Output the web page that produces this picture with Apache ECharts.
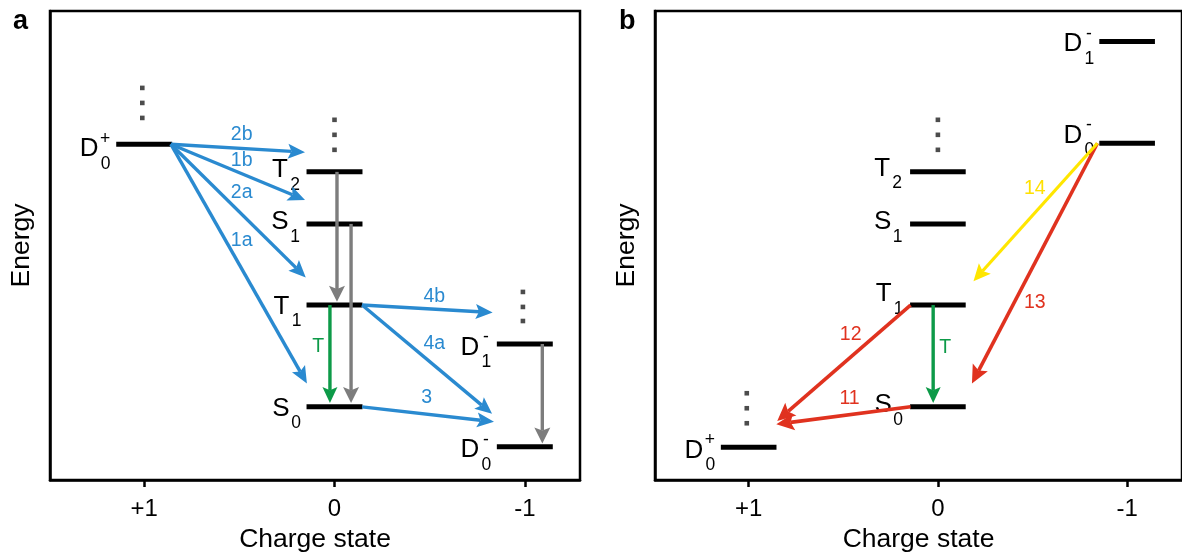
<!DOCTYPE html>
<html>
<head>
<meta charset="utf-8">
<script src="https://cdn.jsdelivr.net/npm/echarts@6/dist/echarts.min.js"></script>
<style>
  html, body { margin: 0; padding: 0; background: #fff; }
  #chart { width: 1182px; height: 558px; }
</style>
</head>
<body>
<div id="chart"></div>
<script>
// ---- data -------------------------------------------------------------
// Charge-state ticks shared by both panels
const chargeTicks = [1, 0, -1];

// Panel a: energy levels (name = letter, subscript, superscript)
const levelNamesA  = ['D0+', 'T2', 'S1', 'T1', 'S0', 'D1-', 'D0-'];
const levelChargeA = [1, 0, 0, 0, 0, -1, -1];
const levelEnergyA = [71.6, 65.7, 54.6, 37.3, 15.6, 29.0, 7.1];

// Panel b: energy levels
const levelNamesB  = ['D1-', 'D0-', 'T2', 'S1', 'T1', 'S0', 'D0+'];
const levelChargeB = [-1, -1, 0, 0, 0, 0, 1];
const levelEnergyB = [93.5, 71.8, 65.7, 54.6, 37.3, 15.6, 7.0];

// "higher states" ellipsis dots
const dotChargeA = [1.01, 1.01, 1.01, 0, 0, 0, -0.99, -0.99, -0.99];
const dotEnergyA = [83.6, 80.4, 77.2, 76.8, 73.6, 70.4, 40.1, 36.9, 33.9];
const dotChargeB = [0, 0, 0, 1.01, 1.01, 1.01];
const dotEnergyB = [76.8, 73.6, 70.4, 18.5, 15.3, 12.1];

// Panel a transitions: start [charge, energy], end [charge, energy]
const arrowKindA  = ['transfer', 'transfer', 'transfer', 'transfer', 'transfer', 'transfer', 'transfer',
                     'relax', 'relax', 'relax', 'triplet'];
const arrowTextA  = ['2b', '1b', '2a', '1a', '4b', '4a', '3', '', '', '', 'T'];
const arrowFromA  = [[0.86, 71.6], [0.86, 71.6], [0.86, 71.6], [0.86, 71.6],
                     [-0.145, 37.3], [-0.145, 37.3], [-0.145, 15.6],
                     [-0.013, 65.7], [-0.087, 54.6], [-1.092, 29.0], [0.024, 37.3]];
const arrowToA    = [[0.155, 69.9], [0.155, 59.7], [0.151, 43.2], [0.145, 20.6],
                     [-0.831, 35.7], [-0.828, 14.1], [-0.838, 12.4],
                     [-0.013, 38.0], [-0.087, 16.4], [-1.092, 7.8], [0.024, 16.4]];
const arrowTextAtA = [[0.488, 73.6], [0.488, 68.0], [0.488, 61.3], [0.488, 51.0],
                      [-0.524, 39.2], [-0.524, 29.0], [-0.484, 17.5],
                      null, null, null, [0.085, 28.4]];

// Panel b transitions
const arrowKindB  = ['recomb', 'recomb', 'recomb', 'capture', 'triplet'];
const arrowTextB  = ['12', '11', '13', '14', 'T'];
const arrowFromB  = [[0.1445, 37.3], [0.1445, 15.6], [-0.843, 71.8], [-0.843, 71.8], [0.025, 37.3]];
const arrowToB    = [[0.849, 12.6], [0.854, 11.9], [-0.18, 20.6], [-0.188, 42.4], [0.025, 16.4]];
const arrowTextAtB = [[0.461, 30.9], [0.467, 17.4], [-0.512, 37.9], [-0.512, 62.2], [-0.039, 28.3]];

// ---- styles -----------------------------------------------------------
const FONT = '"Liberation Sans", Arial, Helvetica, sans-serif';
const LEVEL_HALF = 0.147;           // half width of a level bar, charge units
const ARROW_STYLE = {
  transfer: { color: '#2a8ad0', width: 3.4, head: 17, half: 7.5 },
  relax:    { color: '#7d7d7d', width: 3.4, head: 16, half: 8 },
  triplet:  { color: '#0d9a48', width: 3.4, head: 16, half: 7.5 },
  recomb:   { color: '#e0321f', width: 3.6, head: 18, half: 8.5 },
  capture:  { color: '#ffe600', width: 3.2, head: 17, half: 8 }
};
const TEXT_COLOR = { transfer: '#2a8ad0', triplet: '#0d9a48', recomb: '#e0321f', capture: '#ffe000', relax: '#7d7d7d' };

// label offsets from a level's left end (px): main letter, subscript, superscript
const OFF_D  = { main: [-27, 3.5], sub: [-10.5, 18.5], sup: [-11, -6.5] };
const OFF_ST = { main: [-26.5, -1], sub: [-11.5, 14] };
const nudgeA = { 'D0+': [0, 1.5], 'T2': [0, -1], 'S1': [0, -1], 'T1': [1.5, 2.5], 'S0': [1, 2.5] };
const nudgeB = { 'D1-': [0.5, -0.7], 'D0-': [0.5, -11.3], 'T2': [-1.5, -2.3], 'S1': [-1, -1],
                 'T1': [0, -10], 'S0': [-0.5, -1] };

// ---- renderers --------------------------------------------------------
function levelItem(params, api) {
  const c = api.value(0), e = api.value(1);
  const pL = api.coord([c + LEVEL_HALF, e]);   // axis is inverted: +charge to the left
  const pR = api.coord([c - LEVEL_HALF, e]);
  return { type: 'line', shape: { x1: pL[0], y1: pL[1], x2: pR[0], y2: pR[1] },
           style: { stroke: '#000', lineWidth: 5 } };
}

function makeLevelLabel(names, nudge) {
  return function (params, api) {
    const name = names[params.dataIndex];
    const letter = name[0], sub = name[1], sup = name.slice(2);
    const p = api.coord([api.value(0) + LEVEL_HALF, api.value(1)]);
    const n = nudge[name] || [0, 0];
    const off = sup ? OFF_D : OFF_ST;
    const txt = (s, o, size) => ({
      type: 'text', x: p[0] + o[0] + n[0], y: p[1] + o[1] + n[1],
      style: { text: s, fontSize: size, fontFamily: FONT, fill: '#000', align: 'center', verticalAlign: 'middle' }
    });
    const kids = [txt(letter, off.main, 26), txt(sub, off.sub, 17.5)];
    if (sup) kids.push(txt(sup, off.sup, 17.5));
    return { type: 'group', children: kids };
  };
}

function makeArrow(kinds) {
  return function (params, api) {
    const st = ARROW_STYLE[kinds[params.dataIndex]];
    const p1 = api.coord([api.value(0), api.value(1)]);
    const p2 = api.coord([api.value(2), api.value(3)]);
    const dx = p2[0] - p1[0], dy = p2[1] - p1[1];
    const len = Math.hypot(dx, dy);
    const ux = dx / len, uy = dy / len, nx = -uy, ny = ux;
    const bx = p2[0] - ux * st.head, by = p2[1] - uy * st.head;
    const notch = [p2[0] - ux * st.head * 0.8, p2[1] - uy * st.head * 0.8];
    return {
      type: 'group',
      children: [
        { type: 'line', shape: { x1: p1[0], y1: p1[1], x2: notch[0], y2: notch[1] },
          style: { stroke: st.color, lineWidth: st.width } },
        { type: 'polygon',
          shape: { points: [[p2[0], p2[1]], [bx + nx * st.half, by + ny * st.half], notch,
                            [bx - nx * st.half, by - ny * st.half]] },
          style: { fill: st.color } }
      ]
    };
  };
}

function makeArrowText(kinds, texts) {
  return function (params, api) {
    const i = params.dataIndex;
    const p = api.coord([api.value(0), api.value(1)]);
    return { type: 'text', x: p[0], y: p[1],
      style: { text: texts[i], fontSize: 19.5, fontFamily: FONT, fill: TEXT_COLOR[kinds[i]],
               align: 'center', verticalAlign: 'middle' } };
  };
}

// ---- build option -----------------------------------------------------
const zip = (a, b) => a.map((v, i) => [v, b[i]]);
const arrowData = (from, to) => from.map((f, i) => [f[0], f[1], to[i][0], to[i][1]]);
const textData = (at) => at.map((p, i) => p ? [p[0], p[1], i] : null).filter(Boolean);
const textIdx = (at) => at.map((p, i) => p ? i : -1).filter(i => i >= 0);

function panelSeries(k, names, charge, energy, nudge, dotsC, dotsE, kinds, texts, from, to, textAt) {
  const idx = textIdx(textAt);
  const tKinds = idx.map(i => kinds[i]);
  const tTexts = idx.map(i => texts[i]);
  return [
    { type: 'custom', xAxisIndex: k, yAxisIndex: k, renderItem: levelItem,
      data: zip(charge, energy), silent: true, z: 2 },
    { type: 'custom', xAxisIndex: k, yAxisIndex: k, renderItem: makeLevelLabel(names, nudge),
      data: zip(charge, energy), silent: true, z: 3 },
    { type: 'scatter', xAxisIndex: k, yAxisIndex: k, data: zip(dotsC, dotsE),
      symbol: 'rect', symbolSize: 4.6, itemStyle: { color: '#1f1f1f' }, silent: true, z: 3 },
    { type: 'custom', xAxisIndex: k, yAxisIndex: k, renderItem: makeArrow(kinds),
      data: arrowData(from, to), silent: true, z: 4 },
    { type: 'custom', xAxisIndex: k, yAxisIndex: k, renderItem: makeArrowText(tKinds, tTexts),
      data: textData(textAt), silent: true, z: 5 }
  ];
}

const xAxisBase = {
  type: 'value', inverse: true, min: -1.29, max: 1.495,
  name: 'Charge state', nameLocation: 'middle', nameGap: 46,
  nameTextStyle: { fontSize: 26.5, fontFamily: FONT, color: '#000' },
  axisLine: { show: true, onZero: false, lineStyle: { color: '#000', width: 2.5 } },
  axisTick: { show: true, customValues: chargeTicks, length: 7, lineStyle: { color: '#000', width: 2.5 } },
  axisLabel: { customValues: chargeTicks, margin: 17, fontSize: 24, fontFamily: FONT, color: '#000',
               formatter: v => (v > 0 ? '+' + v : String(v)) },
  splitLine: { show: false }
};
const yAxisBase = {
  type: 'value', min: 0, max: 100,
  name: 'Energy', nameLocation: 'middle', nameGap: 15,
  nameTextStyle: { fontSize: 26.5, fontFamily: FONT, color: '#000' },
  axisLine: { show: true, onZero: false, lineStyle: { color: '#000', width: 2.5 } },
  axisTick: { show: false }, axisLabel: { show: false }, splitLine: { show: false }
};

const option = {
  backgroundColor: '#fff',
  animation: false,
  title: [
    { text: 'a', left: 8, top: 3, textStyle: { fontSize: 27, fontWeight: 'bold', fontFamily: FONT, color: '#000' } },
    { text: 'b', left: 614, top: 3, textStyle: { fontSize: 27, fontWeight: 'bold', fontFamily: FONT, color: '#000' } }
  ],
  grid: [
    { left: 50, top: 11, width: 530, height: 469, show: true, borderColor: '#000', borderWidth: 2.5, containLabel: false },
    { left: 655, top: 11, width: 530, height: 469, show: true, borderColor: '#000', borderWidth: 2.5, containLabel: false }
  ],
  xAxis: [Object.assign({ gridIndex: 0 }, xAxisBase), Object.assign({ gridIndex: 1 }, xAxisBase)],
  yAxis: [Object.assign({ gridIndex: 0 }, yAxisBase), Object.assign({ gridIndex: 1 }, yAxisBase)],
  series: [].concat(
    panelSeries(0, levelNamesA, levelChargeA, levelEnergyA, nudgeA, dotChargeA, dotEnergyA,
                arrowKindA, arrowTextA, arrowFromA, arrowToA, arrowTextAtA),
    panelSeries(1, levelNamesB, levelChargeB, levelEnergyB, nudgeB, dotChargeB, dotEnergyB,
                arrowKindB, arrowTextB, arrowFromB, arrowToB, arrowTextAtB)
  )
};

const chart = echarts.init(document.getElementById('chart'), null, { renderer: 'canvas' });
chart.setOption(option);
</script>
</body>
</html>
